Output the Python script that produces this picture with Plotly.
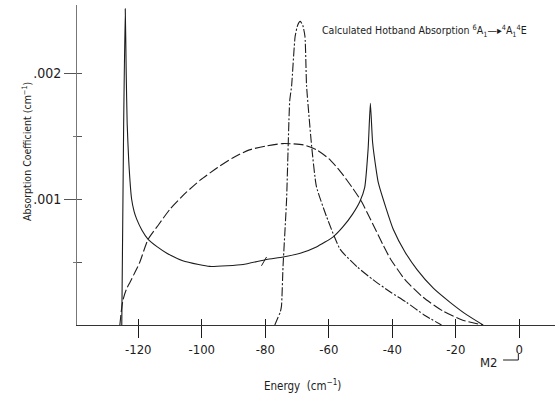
import plotly.graph_objects as go

# Energy (cm^-1) and absorption coefficient (cm^-1) for the three calculated bands
solid_x = [-125.2, -124.9, -124.6, -124.1, -123.8, -123.5, -123.0, -122.1, -121.3, -120.5,
           -118.8, -116.9, -114.0, -111.0, -106.0, -101.0, -97.5, -92.0, -87.0, -79.6,
           -74.4, -69.0, -63.9, -58.6, -55.5, -52.5, -50.2, -48.7, -47.6, -46.9,
           -46.2, -45.0, -44.4, -42.0, -39.7, -36.0, -32.2, -27.0, -21.8, -16.5, -11.4]
solid_y = [0.0, 0.0008, 0.0016, 0.00251, 0.0020, 0.0016, 0.0013, 0.0010, 0.0009, 0.00084,
           0.00075, 0.00068, 0.00062, 0.00057, 0.00051, 0.00048, 0.000465, 0.00047, 0.00048, 0.00052,
           0.00054, 0.00057, 0.00062, 0.00070, 0.00078, 0.00088, 0.00098, 0.00109, 0.00140, 0.00176,
           0.00145, 0.00122, 0.00113, 0.00093, 0.00076, 0.00058, 0.00044, 0.00029, 0.00018, 0.00008, 0.0]

dash_x = [-125.8, -125.3, -124.8, -123.8, -122.6, -121.0, -119.5, -116.9, -113.5, -110.0,
          -105.0, -100.5, -95.0, -90.0, -85.0, -80.0, -74.5, -68.0, -63.8, -60.0,
          -56.4, -52.3, -49.7, -46.1, -43.0, -40.7, -36.0, -30.3, -24.0, -18.0, -11.4]
dash_y = [0.0, 0.00012, 0.0002, 0.00028, 0.00034, 0.00042, 0.0005, 0.00068, 0.0008, 0.00092,
          0.00105, 0.00115, 0.00125, 0.00133, 0.00139, 0.00142, 0.00144, 0.00143, 0.00139, 0.00132,
          0.00122, 0.00108, 0.00098, 0.00080, 0.00064, 0.00053, 0.00036, 0.00022, 0.00011, 0.00004, 0.0]

dashdot_x = [-77.0, -76.0, -75.3, -74.9, -74.4, -73.3, -72.3, -71.7, -70.6, -69.8, -69.0,
             -68.2, -67.5, -67.0, -66.2, -65.4, -63.9, -60.7, -56.4, -51.0, -46.1, -40.5,
             -35.5, -30.0, -24.5]
dashdot_y = [0.0, 0.00006, 0.0001, 0.00015, 0.00047, 0.00099, 0.00178, 0.0019, 0.00229, 0.00238, 0.00241,
             0.00238, 0.00229, 0.0019, 0.00165, 0.00142, 0.0011, 0.00086, 0.0006, 0.00046, 0.00036, 0.00026,
             0.00018, 0.00008, 0.0]

x_ticks = [-120, -100, -80, -60, -40, -20, 0]
x_tick_text = ["-120", "-100", "-80", "-60", "-40", "-20", "0"]
y_ticks = [0.001, 0.002]
y_tick_text = [".001", ".002"]
y_minor_ticks = [0.0005, 0.0015]

FONT = "DejaVu Sans Condensed, Liberation Sans Narrow, Roboto, sans-serif"
INK = "#1c1c1c"
X_RANGE = [-139.3, 11.25]
Y_RANGE = [0, 0.00254]

fig = go.Figure()
fig.add_trace(go.Scatter(x=solid_x, y=solid_y, mode="lines",
                         line=dict(color=INK, width=1.1, shape="spline", smoothing=0.5),
                         showlegend=False))
fig.add_trace(go.Scatter(x=dash_x, y=dash_y, mode="lines",
                         line=dict(color=INK, width=1.1, dash="10px,3px", shape="spline", smoothing=0.6),
                         showlegend=False))
fig.add_trace(go.Scatter(x=dashdot_x, y=dashdot_y, mode="lines",
                         line=dict(color=INK, width=1.1, dash="9px,2px,2px,2px", shape="spline", smoothing=0.5),
                         showlegend=False))
# carrier trace for the overlay axes that draw the inner half of the ticks
fig.add_trace(go.Scatter(x=[None], y=[None], xaxis="x2", yaxis="y2", showlegend=False))

fig.update_layout(
    width=555, height=398,
    margin=dict(l=77, r=0, t=5, b=73),
    paper_bgcolor="white", plot_bgcolor="white",
    font=dict(family=FONT, color=INK, size=13),
    xaxis=dict(range=X_RANGE, tickvals=x_ticks, ticktext=x_tick_text,
               ticks="outside", ticklen=12, tickwidth=1, tickcolor=INK,
               showline=True, linecolor="#333", linewidth=1,
               showgrid=False, zeroline=False, tickfont=dict(size=13)),
    yaxis=dict(range=Y_RANGE, tickvals=y_ticks, ticktext=y_tick_text,
               ticks="outside", ticklen=12, tickwidth=1, tickcolor="#555",
               minor=dict(tickvals=y_minor_ticks, ticks="outside", ticklen=3, tickcolor="#777"),
               showline=True, linecolor="#777", linewidth=1,
               showgrid=False, zeroline=False, tickfont=dict(size=14)),
    xaxis2=dict(range=X_RANGE, overlaying="x", anchor="y2", tickvals=x_ticks,
                ticks="inside", ticklen=6, tickcolor=INK, showticklabels=False,
                showline=False, showgrid=False, zeroline=False),
    yaxis2=dict(range=Y_RANGE, overlaying="y", anchor="x2", tickvals=y_ticks + y_minor_ticks,
                ticks="inside", ticklen=5, tickcolor="#555", showticklabels=False,
                showline=False, showgrid=False, zeroline=False),
)

fig.add_annotation(
    text="Calculated Hotband Absorption <sup>6</sup>A<sub>1</sub>\u2014\u25B8<sup>4</sup>A<sub>1</sub><sup>4</sup>E",
    xref="paper", yref="paper", x=(320 - 77) / 478, y=(325 - 31) / 320,
    xanchor="left", yanchor="middle", showarrow=False, font=dict(size=10.5))
fig.add_annotation(
    text="Absorption Coefficient (cm<sup>\u22121</sup>)", textangle=-90,
    xref="paper", yref="paper", x=(26 - 77) / 478, y=(325 - 152) / 320,
    xanchor="center", yanchor="middle", showarrow=False, font=dict(size=10.5))
fig.add_annotation(
    text="Energy  (cm<sup>\u22121</sup>)",
    xref="paper", yref="paper", x=(302 - 77) / 478, y=(325 - 385) / 320,
    xanchor="center", yanchor="middle", showarrow=False, font=dict(size=11.5))
fig.add_annotation(
    text="M2", xref="x", yref="paper", x=-9.5, y=(325 - 362) / 320,
    xanchor="center", yanchor="middle", showarrow=False, font=dict(size=13))

# hooked pointer from the M2 label up to the zero tick
fig.add_shape(type="path", xref="x", yref="paper",
              path=f"M -5.1,{(325 - 360) / 320} L -0.3,{(325 - 360) / 320} L -0.3,{(325 - 354) / 320}",
              line=dict(color=INK, width=1))
# small pencil mark on the solid curve
fig.add_shape(type="line", xref="x", yref="y", x0=-81.2, y0=0.00047, x1=-79.6, y1=0.00054,
              line=dict(color=INK, width=1))

fig.write_html("out.html")
